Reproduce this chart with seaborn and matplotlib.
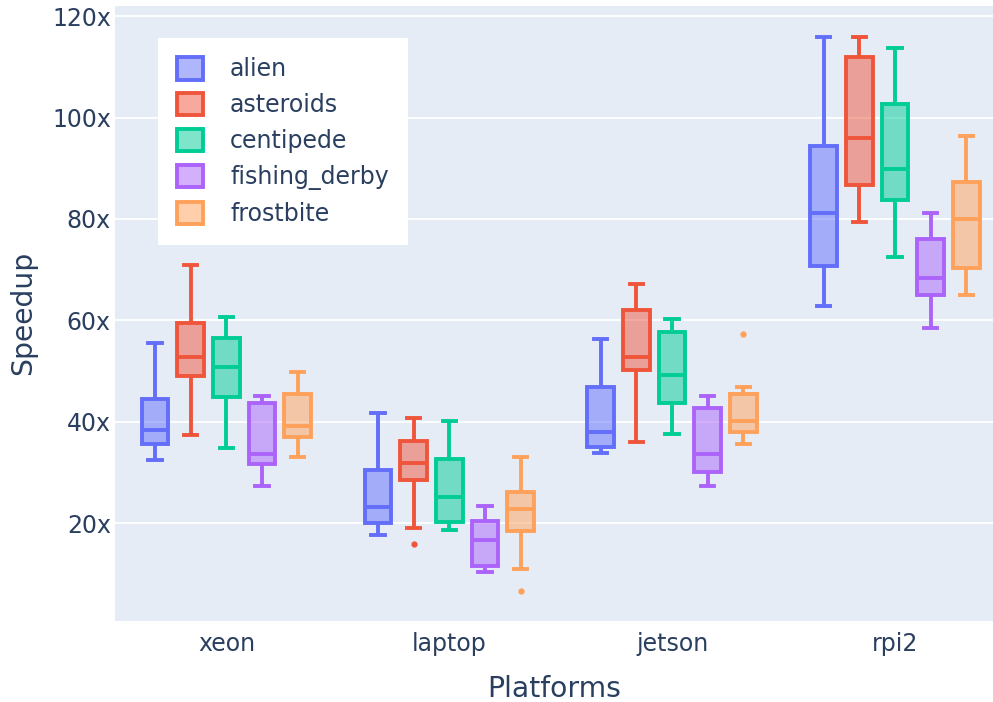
import matplotlib
matplotlib.use("Agg")
import matplotlib.pyplot as plt
import pandas as pd
import seaborn as sns
from matplotlib.colors import to_rgba
from matplotlib.patches import Patch
from matplotlib.ticker import FuncFormatter

platforms = ["xeon", "laptop", "jetson", "rpi2"]
games = ["alien", "asteroids", "centipede", "fishing_derby", "frostbite"]
colors = ["#636efa", "#EF553B", "#00cc96", "#ab63fa", "#FFA15A"]

# speedup runs per platform (xeon, laptop, jetson, rpi2)
alien = [
    [32.4, 35.5, 38.3, 44.4, 55.5],
    [17.6, 20.0, 23.2, 30.5, 41.7],
    [33.8, 35.0, 38.0, 46.8, 56.3],
    [62.8, 70.7, 81.1, 94.4, 115.9],
]
asteroids = [
    [37.4, 49.0, 52.7, 59.4, 70.9],
    [15.9, 19.0, 28.5, 30.0, 31.8, 34.0, 36.2, 38.5, 40.7],
    [36.0, 50.2, 52.7, 62.0, 67.1],
    [79.4, 86.7, 95.9, 111.9, 115.9],
]
centipede = [
    [34.8, 44.9, 50.8, 56.5, 60.6],
    [18.6, 20.2, 25.1, 32.6, 40.1],
    [37.6, 43.7, 49.2, 57.7, 60.2],
    [72.5, 83.7, 89.8, 102.6, 113.7],
]
fishing_derby = [
    [27.3, 31.6, 33.6, 43.7, 45.0],
    [10.3, 11.5, 16.6, 20.4, 23.4],
    [27.3, 30.1, 33.6, 42.7, 45.0],
    [58.5, 65.0, 68.3, 76.0, 81.1],
]
frostbite = [
    [33.0, 37.0, 39.1, 45.4, 49.8],
    [6.5, 10.9, 18.4, 20.5, 22.8, 24.5, 26.1, 29.5, 33.0],
    [35.6, 36.8, 38.0, 39.0, 40.1, 43.0, 45.4, 46.8, 57.2],
    [65.0, 70.3, 80.0, 87.3, 96.3],
]

runs = [alien, asteroids, centipede, fishing_derby, frostbite]
rows = []
for g, game_runs in zip(games, runs):
    for p, vals in zip(platforms, game_runs):
        for v in vals:
            rows.append((p, g, v))
df = pd.DataFrame(rows, columns=["platform", "game", "speedup"])

plt.rcParams['font.family'] = ['DejaVu Sans']
txt = "#2a3f5f"

fig = plt.figure(figsize=(9.93, 7.02), dpi=100)
ax = fig.add_axes([115 / 993, 1 - 620.7 / 702, 878 / 993, 614.7 / 702])
ax.set_facecolor("#E5ECF6")
pal = dict(zip(games, colors))

for g, c in zip(games, colors):
    n_p, n_l = len(ax.patches), len(ax.lines)
    sns.boxplot(data=df[df["game"] == g], x="platform", y="speedup",
                hue="game", hue_order=games, order=platforms, palette=pal,
                width=0.8, gap=0.25, dodge=True, saturation=1,
                linewidth=2.8, linecolor=c, whis=1.5, legend=False, ax=ax)
    for patch in ax.patches[n_p:]:
        patch.set_facecolor(to_rgba(c, 0.5))
        patch.set_edgecolor(c)
    for line in ax.lines[n_l:]:
        line.set_color(c)
        if line.get_marker() not in (None, "None", ""):
            line.set_marker("o")
            line.set_markersize(3.5)
            line.set_markerfacecolor(c)
            line.set_markeredgecolor(c)
            line.set_linestyle("None")

ax.set_xlim(-0.5, 3.44)
ax.set_ylim(0.73, 122)
ax.set_yticks([20, 40, 60, 80, 100, 120])
ax.yaxis.set_major_formatter(FuncFormatter(lambda v, _: f"{v:.0f}x"))
ax.grid(axis="y", color="white", linewidth=1.3)
ax.grid(axis="x", visible=False)
ax.set_axisbelow(True)
for s in ax.spines.values():
    s.set_visible(False)
ax.tick_params(length=0, labelsize=17, labelcolor=txt)
ax.tick_params(axis="x", pad=8)
ax.tick_params(axis="y", pad=3)
ax.set_xlabel("Platforms", fontsize=20.3, color=txt, labelpad=14)
ax.set_ylabel("Speedup", fontsize=20.3, color=txt, labelpad=11)

handles = [Patch(facecolor=to_rgba(c, 0.5), edgecolor=c, linewidth=2.8) for c in colors]
leg = ax.legend(handles, games, loc="upper left", bbox_to_anchor=(0.049, 0.948),
                borderaxespad=0, fontsize=17, frameon=True, fancybox=False,
                handlelength=1.1, handleheight=1.1, labelspacing=0.49,
                handletextpad=1.15, borderpad=0.8)
leg.get_frame().set_facecolor("white")
leg.get_frame().set_edgecolor("none")
leg.get_frame().set_alpha(1)
for t in leg.get_texts():
    t.set_color(txt)

fig.savefig("out.png", dpi=100)
